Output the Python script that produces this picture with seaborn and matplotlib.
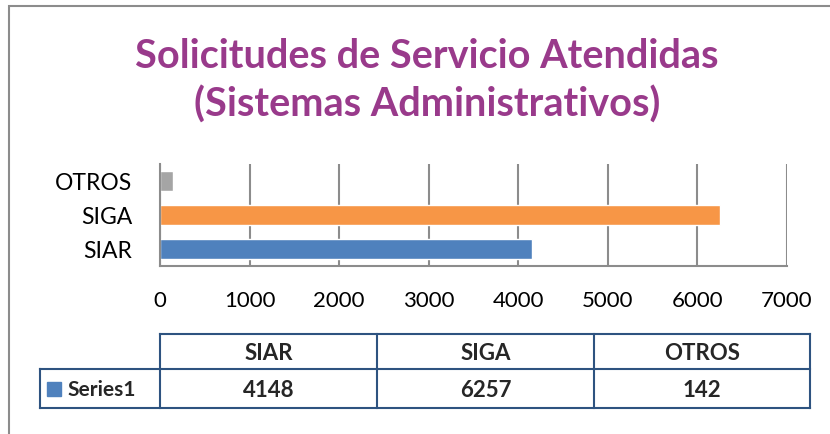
import matplotlib
matplotlib.use("Agg")
import matplotlib.pyplot as plt
import matplotlib.patches as mpatches
import seaborn as sns
import pandas as pd

# --- datos ---
categorias = ["SIAR", "SIGA", "OTROS"]
valores = [4148, 6257, 142]
colores = ["#4F81BD", "#F79646", "#A5A5A5"]
serie = "Series1"
titulo = "Solicitudes de Servicio Atendidas\n(Sistemas Administrativos)"

df = pd.DataFrame({"categoria": categorias, "valor": valores})

sns.set_theme(style="white")
plt.rcParams["font.family"] = ["Lato", "DejaVu Sans"]

W, H = 830, 435
fig = plt.figure(figsize=(W / 100, H / 100), dpi=100)

# marco exterior del grafico
fig.patches.append(mpatches.Rectangle((9 / W, -0.1), 1.0, 1 - 7 / H + 0.1,
                                      transform=fig.transFigure, fill=False,
                                      edgecolor="#8C8C8C", linewidth=1.5))

fig.text(427 / W, 1 - 81 / H, titulo, ha="center", va="center", fontsize=28.5,
         fontweight="bold", color="#993A8B", linespacing=1.36)

# --- barras ---
x0, x1, y0, y1 = 160, 787, 165, 267
ax = fig.add_axes([x0 / W, 1 - y1 / H, (x1 - x0) / W, (y1 - y0) / H])
orden = categorias[::-1]
sns.barplot(data=df, y="categoria", x="valor", hue="categoria", order=orden,
            hue_order=categorias, palette=colores, legend=False, width=0.6,
            saturation=1, ax=ax)
ax.set_xlim(0, 7000)
ax.set_xticks(range(0, 7001, 1000))
ax.grid(axis="x", color="#8C8C8C", linewidth=1.5)
ax.set_axisbelow(True)
for s in ["top", "right"]:
    ax.spines[s].set_visible(False)
for s in ["left", "bottom"]:
    ax.spines[s].set_color("#8C8C8C")
    ax.spines[s].set_linewidth(1.5)
ax.set_xlabel("")
ax.set_ylabel("")
ax.tick_params(axis="x", labelsize=16, pad=17, length=0, colors="black")
ax.tick_params(axis="y", labelsize=16.5, pad=20, length=0, colors="black")

# --- tabla de datos ---
borde = "#2E5380"
cols = [160, 377, 594, 810]
fila1 = (335, 370)
fila2 = (370, 409)
tx = fig.add_axes([0, 0, 1, 1])
tx.set_xlim(0, W)
tx.set_ylim(H, 0)
tx.axis("off")

def linea(xs, ys):
    tx.plot(xs, ys, color=borde, linewidth=1.5, solid_capstyle="projecting")

linea([cols[0], cols[-1]], [fila1[0], fila1[0]])
linea([40, cols[-1]], [fila2[0], fila2[0]])
linea([40, cols[-1]], [fila2[1], fila2[1]])
for c in cols:
    linea([c, c], [fila1[0], fila2[1]])
linea([40, 40], [fila2[0], fila2[1]])

for i, (cat, val) in enumerate(zip(categorias, valores)):
    cx = (cols[i] + cols[i + 1]) / 2
    tx.text(cx, sum(fila1) / 2 + 1, cat, ha="center", va="center",
            fontsize=16, fontweight="bold")
    tx.text(cx, sum(fila2) / 2 + 1, str(val), ha="center", va="center",
            fontsize=16, fontweight="bold")

tx.add_patch(mpatches.Rectangle((47, 383), 14, 14, color=colores[0]))
tx.text(67, sum(fila2) / 2 + 1, serie, ha="left", va="center", fontsize=15,
        fontweight="bold")

fig.savefig("out.png", dpi=100)
